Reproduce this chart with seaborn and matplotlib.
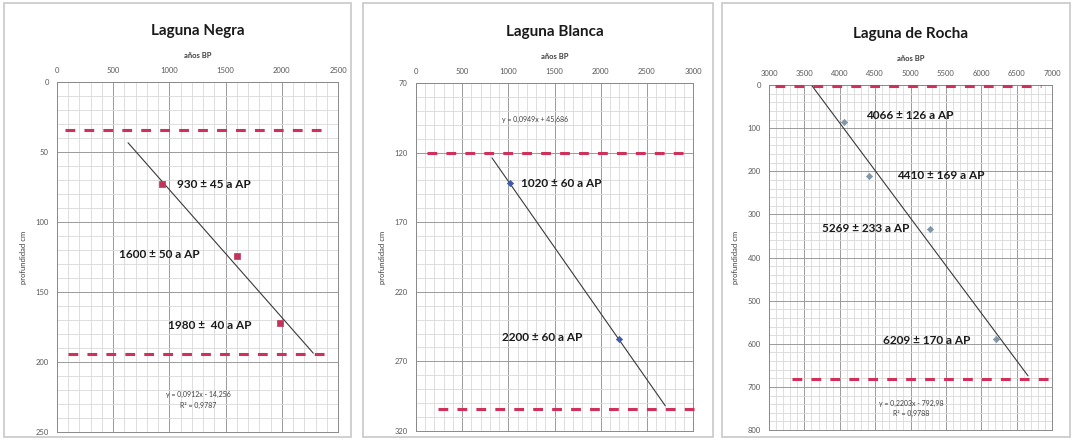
import numpy as np
import pandas as pd
import matplotlib
matplotlib.use("Agg")
import matplotlib.pyplot as plt
import seaborn as sns
from matplotlib.patches import Rectangle
from matplotlib.ticker import MultipleLocator

# ---------------- data ----------------
titles = ["Laguna Negra", "Laguna Blanca", "Laguna de Rocha"]

negra_age = [930, 1600, 1980]
negra_depth = [73, 124, 172]
negra_labels = ["930 ± 45 a AP", "1600 ± 50 a AP", "1980 ±  40 a AP"]
negra_label_x = [1068, 552, 988]
negra_label_y = [73, 123, 174]
negra_slope, negra_icpt = 0.0912, -14.256
negra_fit_x = [632, 2280]
negra_limits = [34, 194]
negra_eq = "y = 0,0912x - 14,256\nR² = 0,9787"
negra_eq_pos = [1256, 227]

blanca_age = [1020, 2200]
blanca_depth = [142, 254]
blanca_labels = ["1020 ± 60 a AP", "2200 ± 60 a AP"]
blanca_label_x = [1137, 932]
blanca_label_y = [142, 253]
blanca_slope, blanca_icpt = 0.0949, 45.686
blanca_fit_x = [823, 2700]
blanca_limits = [120, 304]
blanca_eq = "y = 0,0949x + 45,686"
blanca_eq_pos = [1290, 96]

rocha_age = [4066, 4410, 5269, 6209]
rocha_depth = [85, 212, 333, 588]
rocha_labels = ["4066 ± 126 a AP", "4410 ± 169 a AP", "5269 ± 233 a AP", "6209 ± 170 a AP"]
rocha_label_x = [4371, 4809, 3749, 4611]
rocha_label_y = [70, 209, 332, 592]
rocha_slope, rocha_icpt = 0.2203, -792.98
rocha_fit_x = [3610, 6661]
rocha_limits = [2, 682]
rocha_eq = "y = 0,2203x - 792,98\nR² = 0,9788"
rocha_eq_pos = [5007, 750]

# ---------------- style ----------------
sns.set_style("white")
plt.rcParams["font.family"] = ["Lato", "DejaVu Sans"]

fig = plt.figure(figsize=(10.72, 4.40), dpi=100)
W, H = 1072, 440

# panel borders (pixels: x0, x1)
for x0, x1 in [(4, 351), (363, 713), (722, 1070)]:
    fig.patches.append(Rectangle((x0 / W, 3 / H), (x1 - x0) / W, (437 - 3) / H,
                                 transform=fig.transFigure, fill=False,
                                 edgecolor="#c8c8c8", linewidth=1.2))

panels = [
    dict(rect=(57, 82, 338, 432), xlim=(0, 2500), ylim=(250, 0), xmaj=500, xmin=100,
         ymaj=50, yoff=0, ymin=10, age=negra_age, depth=negra_depth, labels=negra_labels,
         lx=negra_label_x, ly=negra_label_y, slope=negra_slope, icpt=negra_icpt,
         fitx=negra_fit_x, lim=negra_limits, limx=[(0.03, 0.96), (0.04, 0.96)],
         eq=negra_eq, eqpos=negra_eq_pos, marker="s", mcolor="#c2345c", ms=22,
         title=titles[0]),
    dict(rect=(416, 83, 693, 431), xlim=(0, 3000), ylim=(320, 70), xmaj=500, xmin=100,
         ymaj=50, yoff=20, ymin=10, age=blanca_age, depth=blanca_depth, labels=blanca_labels,
         lx=blanca_label_x, ly=blanca_label_y, slope=blanca_slope, icpt=blanca_icpt,
         fitx=blanca_fit_x, lim=blanca_limits, limx=[(0.04, 0.98), (0.08, 1.01)],
         eq=blanca_eq, eqpos=blanca_eq_pos, marker="D", mcolor="#3f5aa6", ms=10,
         title=titles[1]),
    dict(rect=(769, 85, 1052, 430), xlim=(3000, 7000), ylim=(800, 0), xmaj=500, xmin=100,
         ymaj=100, yoff=0, ymin=20, age=rocha_age, depth=rocha_depth, labels=rocha_labels,
         lx=rocha_label_x, ly=rocha_label_y, slope=rocha_slope, icpt=rocha_icpt,
         fitx=rocha_fit_x, lim=rocha_limits, limx=[(0.02, 0.96), (0.08, 1.0)],
         eq=rocha_eq, eqpos=rocha_eq_pos, marker="D", mcolor="#7f97a8", ms=10,
         title=titles[2]),
]

for p in panels:
    x0, y0, x1, y1 = p["rect"]
    ax = fig.add_axes([x0 / W, 1 - y1 / H, (x1 - x0) / W, (y1 - y0) / H])
    ax.set_xlim(*p["xlim"])
    ax.set_ylim(*p["ylim"])
    ax.xaxis.set_major_locator(MultipleLocator(p["xmaj"]))
    ax.xaxis.set_minor_locator(MultipleLocator(p["xmin"]))
    ax.yaxis.set_major_locator(MultipleLocator(p["ymaj"], offset=p["yoff"]))
    ax.yaxis.set_minor_locator(MultipleLocator(p["ymin"]))
    ax.grid(which="major", color="#9a9a9a", linewidth=0.7)
    ax.grid(which="minor", color="#d9d9d9", linewidth=0.6)
    ax.set_axisbelow(True)
    ax.xaxis.tick_top()
    ax.xaxis.set_label_position("top")
    ax.tick_params(which="both", length=0, labelsize=5.5, labelcolor="#595959", pad=6)
    for s in ax.spines.values():
        s.set_color("#8a8a8a")
        s.set_linewidth(0.7)
    ax.set_xlabel("años BP", fontsize=5.5, fontweight="bold", color="#404040", labelpad=6)
    ax.set_ylabel("profundidad cm", fontsize=5.5, color="#404040", labelpad=6)
    ax.set_title(p["title"], fontsize=11, fontweight="bold", color="#1a1a1a", pad=34)

    # boundary dashed lines
    for yv, (a, b) in zip(p["lim"], p["limx"]):
        ax.axhline(yv, xmin=a, xmax=b, color="#d0305a", linewidth=2.2,
                   dashes=(3.2, 3.0), clip_on=False, zorder=3)

    # regression line
    fx = np.array(p["fitx"], dtype=float)
    fy = p["slope"] * fx + p["icpt"]
    sns.lineplot(x=fx, y=fy, ax=ax, color="#3a3a3a", linewidth=0.8, zorder=4)

    # data points
    sns.scatterplot(x=p["age"], y=p["depth"], ax=ax, marker=p["marker"],
                    color=p["mcolor"], s=p["ms"], edgecolor=p["mcolor"],
                    linewidth=0.5, zorder=5)

    for txt, tx, ty in zip(p["labels"], p["lx"], p["ly"]):
        ax.text(tx, ty, txt, fontsize=8.5, fontweight="bold", color="#1a1a1a",
                ha="left", va="center", zorder=6)

    ax.text(p["eqpos"][0], p["eqpos"][1], p["eq"], fontsize=5, color="#404040",
            ha="center", va="center", linespacing=1.6, zorder=6)

fig.savefig("out.png", dpi=100)
